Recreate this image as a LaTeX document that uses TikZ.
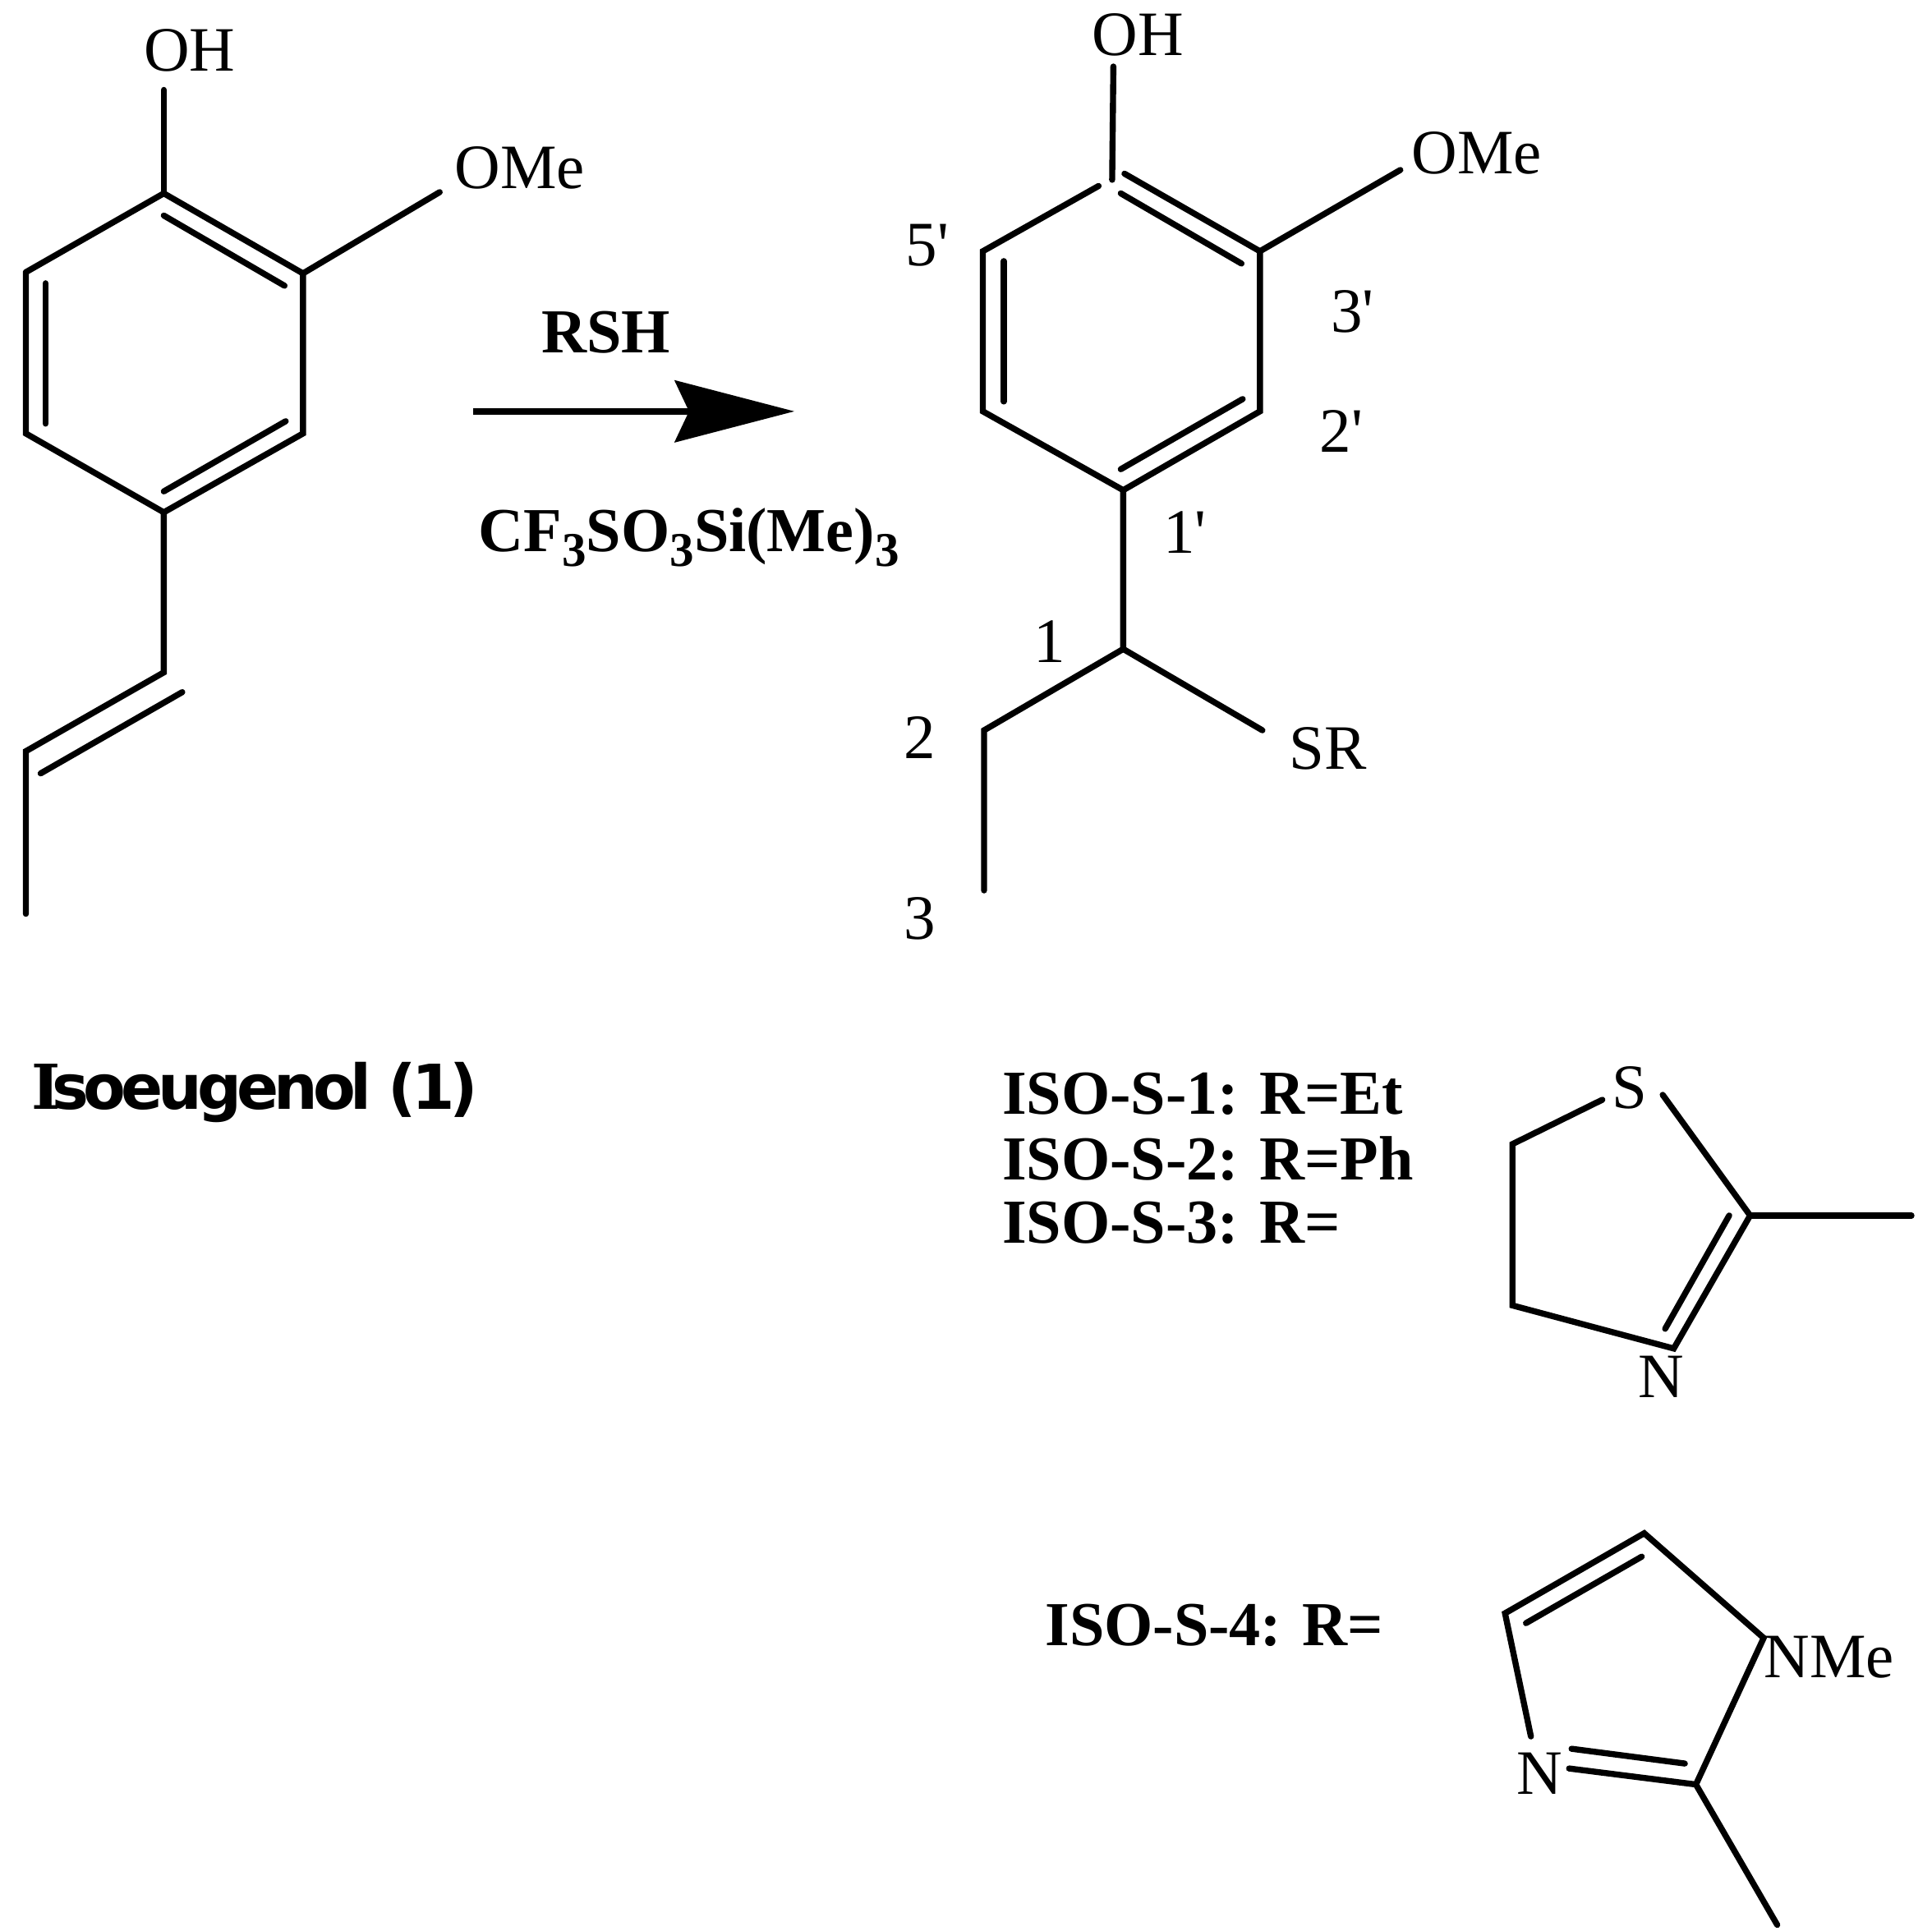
\documentclass[tikz,border=0pt]{standalone}
\usepackage{fontspec}
\setmainfont{Liberation Serif}
\newfontfamily\titlefont{DejaVu Sans}
\newfontfamily\slabfont{DejaVu Serif}
\usetikzlibrary{arrows.meta}
\newcommand{\subthree}{\raisebox{-3.4pt}{\fontsize{11.2}{12}\selectfont 3}}
\tikzset{
  every node/.style={inner sep=0pt, font=\fontsize{14.6}{17}\selectfont}, % text size of all labels
  bond/.style={line width=1.4pt, line cap=round, line join=miter},
  boldtext/.style={font=\fontsize{14.45}{17}\selectfont\bfseries},
  reaction/.style={line width=1.45pt, -{Stealth[length=0.97cm, width=0.5cm, inset=0.115cm]}},
}

\begin{document}
\begin{tikzpicture}[x=0.01cm, y=-0.01cm]
  \useasboundingbox (0,0) rectangle (1568,1568);

  % isoeugenol ring
  \coordinate (a1) at (133,157);
  \coordinate (a2) at (246,222);
  \coordinate (a3) at (246,352);
  \coordinate (a4) at (133,416);
  \coordinate (a5) at (21,352);
  \coordinate (a6) at (21,221);
  \coordinate (a1i) at (133,175);
  \coordinate (a2i) at (231,232);
  \coordinate (a3i) at (232,342);
  \coordinate (a4i) at (133,399);
  \coordinate (a5i) at (37,344);
  \coordinate (a6i) at (37,230);
  \coordinate (aOHend) at (133,73);
  \coordinate (aOMeend) at (357,156);
  \coordinate (a7) at (133,546);
  \coordinate (a8) at (21,610);
  \coordinate (a9) at (21,742);
  \coordinate (a7i) at (148,562);
  \coordinate (a8i) at (33,628);
  \node (aOH) at (154,41) {OH};
  \node (aOMe) at (422,136) {OMe};
  \draw[bond] (a6) -- (a1) -- (a2) -- (a3) -- (a4) -- (a5) -- (a6);
  \draw[bond] (a1i) -- (a2i);
  \draw[bond] (a3i) -- (a4i);
  \draw[bond] (a5i) -- (a6i);
  \draw[bond] (a1) -- (aOHend);
  \draw[bond] (a2) -- (aOMeend);
  \draw[bond] (a4) -- (a7) -- (a8) -- (a9);
  \draw[bond] (a7i) -- (a8i);
  \node (aname) at (207,887) {\titlefont\bfseries\fontsize{14.3}{17}\selectfont\addfontfeature{LetterSpace=-8}{\slabfont I}\kern-2pt soeugenol (1)};

  % reaction arrow
  \coordinate (arrowstart) at (384,334);
  \coordinate (arrowend) at (645,334);
  \draw[reaction] (arrowstart) -- (arrowend);
  \node[boldtext] (reagent) at (492,270) {RSH};
  \node[boldtext, anchor=base west] (catalyst) at (388,448) {CF\subthree SO\subthree Si(Me)\subthree};

  % product ring
  \coordinate (b1) at (903,146);
  \coordinate (b2) at (1023,204);
  \coordinate (b3) at (1023,334);
  \coordinate (b4) at (912,398);
  \coordinate (b5) at (798,334);
  \coordinate (b6) at (798,204);
  \coordinate (b1l) at (892,151);
  \coordinate (b1r) at (913,141);
  \coordinate (b1i) at (910,157);
  \coordinate (b2i) at (1008,214);
  \coordinate (b3i) at (1009,324);
  \coordinate (b4i) at (910,381);
  \coordinate (b5i) at (815,326);
  \coordinate (b6i) at (815,212);
  \coordinate (bOHend) at (904,54);
  \coordinate (bOMeend) at (1137,138);
  \coordinate (c1) at (912,527);
  \coordinate (c2) at (799,593);
  \coordinate (c3) at (799,723);
  \coordinate (bSRend) at (1025,593);
  \node (bOH) at (924,28) {OH};
  \node (bOMe) at (1199,124) {OMe};
  \node (bSR) at (1078,608) {SR};
  \draw[bond] (b1l) -- (b6) -- (b5) -- (b4) -- (b3) -- (b2) -- (b1r);
  \draw[bond] (b1i) -- (b2i);
  \draw[bond] (b3i) -- (b4i);
  \draw[bond] (b5i) -- (b6i);
  \draw[bond] (bOHend) -- (b1);
  \draw[bond] (b2) -- (bOMeend);
  \draw[bond] (b4) -- (c1) -- (c2) -- (c3);
  \draw[bond] (c1) -- (bSRend);

  % numbering
  \node (n5p) at (753,199) {5\textquotesingle};
  \node (n3p) at (1098,253) {3\textquotesingle};
  \node (n2p) at (1089,350) {2\textquotesingle};
  \node (n1p) at (962,432) {1\textquotesingle};
  \node (n1) at (852,521) {1};
  \node (n2) at (747,599) {2};
  \node (n3) at (747,746) {3};

  % R groups
  \node[boldtext, anchor=west] (iso1) at (813,888) {ISO-S-1: R=Et};
  \node[boldtext, anchor=west] (iso2) at (813,941) {ISO-S-2: R=Ph};
  \node[boldtext, anchor=west] (iso3) at (813,993) {ISO-S-3: R=};
  \node[boldtext, anchor=west] (iso4) at (848,1320) {ISO-S-4: R=};

  % thiazoline
  \node (tS) at (1323,883) {S};
  \node (tN) at (1349,1118) {N};
  \coordinate (t1) at (1301,893);
  \coordinate (t2) at (1228,929);
  \coordinate (t3) at (1228,1060);
  \coordinate (t5) at (1359,1095);
  \coordinate (t6) at (1421,987);
  \coordinate (t7) at (1350,889);
  \coordinate (t8) at (1552,987);
  \coordinate (t5i) at (1352,1079);
  \coordinate (t6i) at (1404,987);
  \draw[bond] (t1) -- (t2) -- (t3) -- (t5) -- (t6) -- (t7);
  \draw[bond] (t5i) -- (t6i);
  \draw[bond] (t6) -- (t8);

  % imidazole
  \node (iN) at (1250,1440) {N};
  \node (iNMe) at (1485,1346) {NMe};
  \coordinate (i1) at (1335,1245);
  \coordinate (i2) at (1222,1310);
  \coordinate (i3) at (1243,1410);
  \coordinate (i4) at (1432,1330);
  \coordinate (i5) at (1377,1449);
  \coordinate (i6) at (1274,1436);
  \coordinate (i7) at (1443,1563);
  \coordinate (i1i) at (1333,1264);
  \coordinate (i2i) at (1239,1318);
  \coordinate (i5i) at (1368,1432);
  \coordinate (i6i) at (1276,1420);
  \draw[bond] (i3) -- (i2) -- (i1) -- (i4) -- (i5) -- (i6);
  \draw[bond] (i1i) -- (i2i);
  \draw[bond] (i5i) -- (i6i);
  \draw[bond] (i5) -- (i7);
\end{tikzpicture}
\end{document}
